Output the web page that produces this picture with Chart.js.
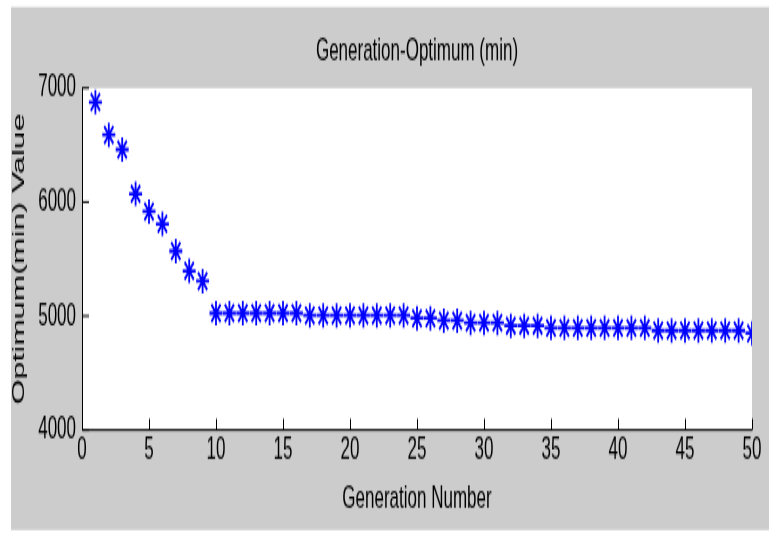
<!DOCTYPE html>
<html>
<head>
<meta charset="utf-8">
<script src="https://cdn.jsdelivr.net/npm/chart.js@4.4.0/dist/chart.umd.min.js"></script>
<style>
  html, body { margin: 0; padding: 0; background: #fff; }
  #page { width: 770px; height: 536px; position: relative; }
  /* figure is drawn flat and stretched tall, like the exported plot */
  #wrap { position: absolute; left: 0; top: 0; width: 770px; height: 285px; transform: scaleY(1.8807); transform-origin: 0 0; }
</style>
</head>
<body>
<div id="page"><div id="wrap"><canvas id="gen-chart" width="770" height="285"></canvas></div></div>
<script>
// best (min) value found in each generation
var generations = [
    1, 2, 3, 4, 5, 6, 7, 8, 9, 10,
    11, 12, 13, 14, 15, 16, 17, 18, 19, 20,
    21, 22, 23, 24, 25, 26, 27, 28, 29, 30,
    31, 32, 33, 34, 35, 36, 37, 38, 39, 40,
    41, 42, 43, 44, 45, 46, 47, 48, 49, 50
];
var optimum = [
    6876, 6589, 6460, 6071, 5917, 5808, 5569, 5395, 5306, 5025,
    5025, 5025, 5025, 5025, 5025, 5025, 5005, 5005, 5005, 5005,
    5005, 5005, 5005, 5005, 4980, 4980, 4960, 4960, 4940, 4940,
    4940, 4915, 4915, 4915, 4895, 4895, 4895, 4895, 4895, 4895,
    4895, 4895, 4872, 4872, 4872, 4872, 4872, 4872, 4872, 4848
];
var xTicks = [0, 5, 10, 15, 20, 25, 30, 35, 40, 45, 50];
var yTicks = [4000, 5000, 6000, 7000];

var points = [];
for (let i = 0; i < generations.length; i++) {
    points.push({ x: generations[i], y: optimum[i] });
}

var fontFamily = '"Liberation Sans", Arial, sans-serif';

// grey figure, white axes area, left/bottom axis with inward ticks
const figure = {
    id: 'figure',
    beforeDraw(chart) {
        const { ctx, chartArea: a } = chart;
        ctx.save();
        ctx.fillStyle = '#ffffff';
        ctx.fillRect(0, 0, chart.width, chart.height);
        ctx.fillStyle = '#cccccc';
        ctx.fillRect(11, 3.7, 758, 278.1);
        ctx.fillStyle = '#ffffff';
        ctx.fillRect(a.left, a.top, a.right - a.left, a.bottom - a.top);
        ctx.restore();
    },
    beforeDatasetsDraw(chart) {
        const { ctx, chartArea: a, scales } = chart;
        ctx.save();
        ctx.strokeStyle = '#000000';
        ctx.lineWidth = 1;
        ctx.beginPath();
        ctx.moveTo(a.left + 0.5, a.top);
        ctx.lineTo(a.left + 0.5, a.bottom);
        ctx.lineTo(a.right, a.bottom);
        scales.x.ticks.forEach(t => {
            const x = Math.round(scales.x.getPixelForValue(t.value)) + 0.5;
            ctx.moveTo(x, a.bottom);
            ctx.lineTo(x, a.bottom - 6);
        });
        scales.y.ticks.forEach(t => {
            const y = scales.y.getPixelForValue(t.value);
            ctx.moveTo(a.left, y);
            ctx.lineTo(a.left + 7, y);
        });
        ctx.stroke();
        ctx.restore();
    }
};

var ctx = document.getElementById('gen-chart').getContext('2d');

new Chart(ctx, {
    type: 'scatter',
    data: {
        datasets: [{
            label: 'Optimum',
            data: points,
            pointStyle: 'star',
            pointRadius: 6.5,
            borderColor: '#0000ff',
            backgroundColor: '#0000ff',
            borderWidth: 1.8
        }]
    },
    options: {
        responsive: false,
        animation: false,
        events: [],
        layout: { padding: { left: 0, right: 18, top: 0, bottom: 0 } },
        plugins: {
            legend: { display: false },
            tooltip: { enabled: false },
            title: {
                display: true,
                text: 'Generation-Optimum (min)',
                fullSize: false,
                color: '#000',
                font: { family: fontFamily, size: 17, weight: 'normal' },
                padding: { top: 17.4, bottom: 9 }
            }
        },
        scales: {
            x: {
                type: 'linear',
                min: 0,
                max: 50,
                afterFit: (s) => { s.height = 56.4; },
                afterBuildTicks: (s) => { s.ticks = xTicks.map(v => ({ value: v })); },
                grid: { display: false, drawTicks: false },
                border: { display: false },
                ticks: {
                    color: '#000',
                    padding: 0.5,
                    maxRotation: 0,
                    font: { family: fontFamily, size: 17 }
                },
                title: {
                    display: true,
                    text: 'Generation Number',
                    color: '#000',
                    font: { family: fontFamily, size: 17 },
                    padding: { top: 0, bottom: 9.6 }
                }
            },
            y: {
                type: 'linear',
                min: 4000,
                max: 7000,
                afterFit: (s) => { s.width = 82; },
                afterBuildTicks: (s) => { s.ticks = yTicks.map(v => ({ value: v })); },
                grid: { display: false, drawTicks: false },
                border: { display: false },
                ticks: {
                    color: '#000',
                    padding: 6,
                    font: { family: fontFamily, size: 17 },
                    callback: (v) => String(v)
                },
                title: {
                    display: true,
                    text: 'Optimum(min) Value',
                    color: '#000',
                    font: { family: fontFamily, size: 17 },
                    padding: { top: 9, bottom: 0 }
                }
            }
        }
    },
    plugins: [figure]
});
</script>
</body>
</html>
